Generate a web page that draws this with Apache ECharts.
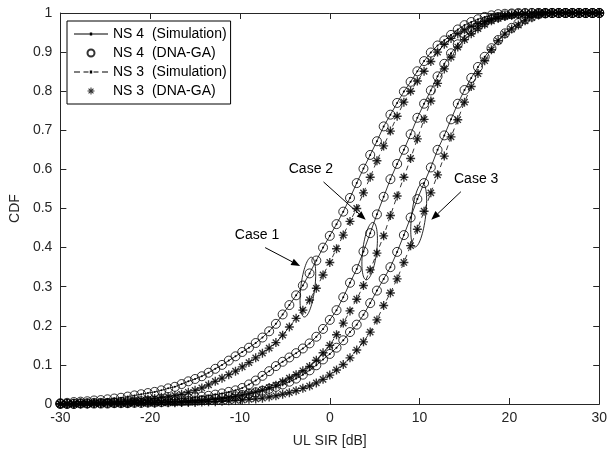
<!DOCTYPE html>
<html>
<head>
<meta charset="utf-8">
<script src="https://cdn.jsdelivr.net/npm/echarts@6/dist/echarts.min.js"></script>
<style>
  html, body { margin: 0; padding: 0; background: #fff; }
  #chart { width: 610px; height: 459px; }
</style>
</head>
<body>
<div id="chart"></div>
<script>
// UL SIR sample points [dB]
var sir = [-30, -29.25, -28.5, -27.75, -27, -26.25, -25.5, -24.75, -24, -23.25,
    -22.5, -21.75, -21, -20.25, -19.5, -18.75, -18, -17.25, -16.5, -15.75,
    -15, -14.25, -13.5, -12.75, -12, -11.25, -10.5, -9.75, -9, -8.25,
    -7.5, -6.75, -6, -5.25, -4.5, -3.75, -3, -2.25, -1.5, -0.75,
    0, 0.75, 1.5, 2.25, 3, 3.75, 4.5, 5.25, 6, 6.75,
    7.5, 8.25, 9, 9.75, 10.5, 11.25, 12, 12.75, 13.5, 14.25,
    15, 15.75, 16.5, 17.25, 18, 18.75, 19.5, 20.25, 21, 21.75,
    22.5, 23.25, 24, 24.75, 25.5, 26.25, 27, 27.75, 28.5, 29.25,
    30];

// Case 1
var case1Ns4 = [0.002, 0.003, 0.005, 0.006, 0.007, 0.009, 0.010, 0.012, 0.014, 0.016,
    0.019, 0.022, 0.025, 0.028, 0.031, 0.035, 0.040, 0.044, 0.051, 0.058,
    0.064, 0.071, 0.080, 0.090, 0.100, 0.111, 0.122, 0.133, 0.144, 0.156,
    0.170, 0.186, 0.205, 0.229, 0.253, 0.278, 0.303, 0.334, 0.367, 0.400,
    0.430, 0.460, 0.492, 0.527, 0.565, 0.602, 0.637, 0.672, 0.710, 0.740,
    0.770, 0.799, 0.824, 0.851, 0.877, 0.899, 0.917, 0.930, 0.944, 0.958,
    0.969, 0.977, 0.984, 0.990, 0.994, 0.997, 0.998, 0.999, 1, 1,
    1, 1, 1, 1, 1, 1, 1, 1, 1, 1,
    1];
var case1Ns3 = [0.001, 0.001, 0.001, 0.002, 0.002, 0.003, 0.003, 0.004, 0.005, 0.006,
    0.007, 0.009, 0.010, 0.012, 0.014, 0.017, 0.019, 0.022, 0.025, 0.030,
    0.035, 0.041, 0.049, 0.058, 0.066, 0.075, 0.084, 0.095, 0.106, 0.118,
    0.130, 0.143, 0.157, 0.176, 0.197, 0.219, 0.240, 0.266, 0.296, 0.330,
    0.362, 0.397, 0.432, 0.467, 0.500, 0.540, 0.580, 0.622, 0.660, 0.698,
    0.736, 0.772, 0.800, 0.826, 0.851, 0.876, 0.900, 0.920, 0.935, 0.947,
    0.957, 0.966, 0.973, 0.979, 0.985, 0.990, 0.993, 0.995, 0.997, 0.998,
    0.999, 1, 1, 1, 1, 1, 1, 1, 1, 1,
    1];
// Case 2
var case2Ns4 = [0.001, 0.001, 0.001, 0.002, 0.002, 0.003, 0.003, 0.003, 0.004, 0.005,
    0.005, 0.006, 0.007, 0.008, 0.008, 0.009, 0.011, 0.012, 0.014, 0.015,
    0.017, 0.019, 0.021, 0.024, 0.027, 0.031, 0.035, 0.041, 0.050, 0.060,
    0.072, 0.084, 0.097, 0.108, 0.119, 0.130, 0.142, 0.155, 0.172, 0.192,
    0.215, 0.240, 0.273, 0.310, 0.345, 0.390, 0.437, 0.485, 0.530, 0.575,
    0.614, 0.650, 0.690, 0.732, 0.768, 0.802, 0.838, 0.870, 0.897, 0.920,
    0.940, 0.954, 0.966, 0.976, 0.985, 0.990, 0.994, 0.997, 0.998, 0.999,
    1, 1, 1, 1, 1, 1, 1, 1, 1, 1,
    1];
var case2Ns3 = [0.000, 0.000, 0.000, 0.001, 0.001, 0.001, 0.001, 0.002, 0.002, 0.002,
    0.002, 0.003, 0.003, 0.004, 0.004, 0.004, 0.005, 0.006, 0.006, 0.007,
    0.008, 0.009, 0.011, 0.012, 0.014, 0.016, 0.019, 0.023, 0.027, 0.031,
    0.036, 0.042, 0.048, 0.057, 0.066, 0.075, 0.085, 0.096, 0.112, 0.131,
    0.150, 0.177, 0.207, 0.238, 0.268, 0.303, 0.343, 0.386, 0.430, 0.482,
    0.532, 0.580, 0.628, 0.678, 0.728, 0.775, 0.820, 0.857, 0.887, 0.913,
    0.932, 0.947, 0.960, 0.971, 0.980, 0.986, 0.991, 0.994, 0.997, 0.998,
    0.998, 0.999, 1, 1, 1, 1, 1, 1, 1, 1,
    1];
// Case 3
var case3Ns4 = [0.000, 0.000, 0.000, 0.001, 0.001, 0.001, 0.001, 0.001, 0.002, 0.002,
    0.002, 0.003, 0.003, 0.004, 0.004, 0.005, 0.006, 0.007, 0.007, 0.008,
    0.009, 0.010, 0.012, 0.014, 0.016, 0.018, 0.020, 0.023, 0.026, 0.030,
    0.034, 0.039, 0.044, 0.050, 0.057, 0.065, 0.075, 0.086, 0.099, 0.114,
    0.128, 0.144, 0.163, 0.184, 0.203, 0.228, 0.258, 0.290, 0.320, 0.350,
    0.389, 0.432, 0.477, 0.524, 0.565, 0.605, 0.650, 0.687, 0.728, 0.768,
    0.803, 0.834, 0.862, 0.888, 0.910, 0.931, 0.948, 0.962, 0.974, 0.984,
    0.991, 0.997, 0.999, 1, 1, 1, 1, 1, 1, 1,
    1];
var case3Ns3 = [0.000, 0.000, 0.000, 0.000, 0.000, 0.001, 0.001, 0.001, 0.001, 0.001,
    0.001, 0.002, 0.002, 0.002, 0.002, 0.003, 0.003, 0.003, 0.004, 0.004,
    0.004, 0.005, 0.006, 0.006, 0.007, 0.008, 0.009, 0.010, 0.012, 0.013,
    0.015, 0.018, 0.021, 0.025, 0.029, 0.034, 0.040, 0.046, 0.054, 0.063,
    0.074, 0.087, 0.101, 0.118, 0.138, 0.159, 0.184, 0.215, 0.252, 0.284,
    0.320, 0.362, 0.405, 0.447, 0.493, 0.540, 0.586, 0.634, 0.683, 0.727,
    0.772, 0.812, 0.845, 0.878, 0.906, 0.929, 0.946, 0.959, 0.969, 0.980,
    0.988, 0.995, 0.998, 0.999, 1, 1, 1, 1, 1, 1,
    1];

var legendNames = ['NS 4  (Simulation)', 'NS 4  (DNA-GA)', 'NS 3  (Simulation)', 'NS 3  (DNA-GA)'];

// annotations (data coordinates)
var caseLabels = ['Case 1', 'Case 2', 'Case 3'];
var labelAt = [[-8.1, 0.432], [-2.1, 0.601], [16.3, 0.575]];
var arrowFrom = [[-7.2, 0.40], [-0.7, 0.568], [14.6, 0.543]];
var arrowTo = [[-3.3, 0.353], [4.0, 0.471], [11.3, 0.471]];
var ringAt = [[-2.44, 0.299], [4.44, 0.391], [9.9, 0.483]];
var ringSize = [[0.78, 0.077], [0.78, 0.074], [0.78, 0.082]];

// asterisk marker ('*'), four bars
var STAR = 'path://M0 8.5L20 8.5L20 11.5L0 11.5Z M8.5 0L11.5 0L11.5 20L8.5 20Z ' +
    'M4.06 1.94L18.06 15.94L15.94 18.06L1.94 4.06Z M18.06 4.06L4.06 18.06L1.94 15.94L15.94 1.94Z';
// legend icons: line with a small '.' in the middle
var SOLID_ICON = 'path://M0 1L34 1L34 2L0 2Z M15.8 0L18.2 0L18.2 3L15.8 3Z';
var DASH_ICON = 'path://M0 1L6 1L6 2L0 2Z M9.5 1L14.5 1L14.5 2L9.5 2Z M15.8 0L18.2 0L18.2 3L15.8 3Z ' +
    'M19.5 1L24.5 1L24.5 2L19.5 2Z M28 1L34 1L34 2L28 2Z';

var AX = '#262626';
var FONT = 'Liberation Sans';

function pts(ys) {
    return sir.map(function (x, i) { return [x, ys[i]]; });
}

var series = [];
[case1Ns4, case2Ns4, case3Ns4].forEach(function (ys) {
    series.push({
        name: legendNames[0], type: 'line', data: pts(ys),
        symbol: 'circle', symbolSize: 2, showSymbol: true,
        itemStyle: { color: '#000' },
        lineStyle: { color: '#000', width: 0.8, type: 'solid' },
        silent: true, z: 2
    });
});
[case1Ns4, case2Ns4, case3Ns4].forEach(function (ys) {
    series.push({
        name: legendNames[1], type: 'scatter', data: pts(ys),
        symbol: 'circle', symbolSize: 9,
        itemStyle: { color: 'rgba(0,0,0,0)', borderColor: '#000', borderWidth: 1 },
        silent: true, z: 3
    });
});
[case1Ns3, case2Ns3, case3Ns3].forEach(function (ys) {
    series.push({
        name: legendNames[2], type: 'line', data: pts(ys),
        symbol: 'circle', symbolSize: 2, showSymbol: true,
        itemStyle: { color: '#000' },
        lineStyle: { color: '#000', width: 0.8, type: [5, 4] },
        silent: true, z: 2
    });
});
[case1Ns3, case2Ns3, case3Ns3].forEach(function (ys) {
    series.push({
        name: legendNames[3], type: 'scatter', data: pts(ys),
        symbol: STAR, symbolSize: 9,
        itemStyle: { color: '#000' },
        silent: true, z: 3
    });
});

function xAxisCfg(pos, main) {
    return {
        type: 'value', position: pos, min: -30, max: 30, interval: 10,
        axisLine: { onZero: false, lineStyle: { color: AX, width: 1 } },
        axisTick: { inside: true, length: 6, lineStyle: { color: AX } },
        axisLabel: { show: main, color: AX, fontSize: 14, fontFamily: FONT, margin: 7 },
        splitLine: { show: false },
        name: main ? 'UL SIR [dB]' : '', nameLocation: 'middle', nameGap: 30,
        nameTextStyle: { color: AX, fontSize: 14, fontFamily: FONT }
    };
}
function yAxisCfg(pos, main) {
    return {
        type: 'value', position: pos, min: 0, max: 1, interval: 0.1,
        axisLine: { onZero: false, lineStyle: { color: AX, width: 1 } },
        axisTick: { inside: true, length: 6, lineStyle: { color: AX } },
        axisLabel: { show: main, color: AX, fontSize: 14, fontFamily: FONT, margin: 8 },
        splitLine: { show: false },
        name: main ? 'CDF' : '', nameLocation: 'middle', nameGap: 27, nameRotate: 90,
        nameTextStyle: { color: AX, fontSize: 14, fontFamily: FONT }
    };
}

var chart = echarts.init(document.getElementById('chart'));
var option = {
    animation: false,
    backgroundColor: '#fff',
    grid: { left: 60, right: 10, top: 13, bottom: 55 },
    xAxis: [xAxisCfg('bottom', true), xAxisCfg('top', false)],
    yAxis: [yAxisCfg('left', true), yAxisCfg('right', false)],
    legend: {
        orient: 'vertical', left: 67, top: 21,
        data: [
            { name: legendNames[0], icon: SOLID_ICON },
            { name: legendNames[1] },
            { name: legendNames[2], icon: DASH_ICON },
            { name: legendNames[3] }
        ],
        itemWidth: 34, itemHeight: 7, itemGap: 5,
        padding: [6, 4, 6, 7],
        borderColor: '#000', borderWidth: 1, backgroundColor: '#fff',
        textStyle: { color: '#000', fontSize: 14, fontFamily: FONT },
        selectedMode: false
    },
    series: series
};
chart.setOption(option);

// ellipses, arrows and case labels, placed through the axes
function toPx(p) {
    return chart.convertToPixel({ xAxisIndex: 0, yAxisIndex: 0 }, p);
}
var elements = [];
caseLabels.forEach(function (label, i) {
    var c = toPx(ringAt[i]);
    var e = toPx([ringAt[i][0] + ringSize[i][0], ringAt[i][1] + ringSize[i][1]]);
    elements.push({
        type: 'ellipse', x: c[0], y: c[1], rotation: -0.12,
        shape: { cx: 0, cy: 0, rx: e[0] - c[0], ry: c[1] - e[1] },
        style: { fill: 'none', stroke: '#000', lineWidth: 0.8 }, z: 10
    });
    var a = toPx(arrowFrom[i]), b = toPx(arrowTo[i]);
    var dx = b[0] - a[0], dy = b[1] - a[1], len = Math.sqrt(dx * dx + dy * dy);
    var ux = dx / len, uy = dy / len, hl = 9, hw = 3.5;
    var bx = b[0] - ux * hl, by = b[1] - uy * hl;
    elements.push({
        type: 'line', shape: { x1: a[0], y1: a[1], x2: bx, y2: by },
        style: { stroke: '#000', lineWidth: 1 }, z: 10
    });
    elements.push({
        type: 'polygon',
        shape: { points: [[b[0], b[1]], [bx - uy * hw, by + ux * hw], [bx + uy * hw, by - ux * hw]] },
        style: { fill: '#000' }, z: 10
    });
    var t = toPx(labelAt[i]);
    elements.push({
        type: 'text', x: t[0], y: t[1],
        style: { text: label, fill: '#000', fontSize: 14, fontFamily: FONT, align: 'center', verticalAlign: 'middle' },
        z: 10
    });
});
chart.setOption({ graphic: { elements: elements } });

window.addEventListener('resize', function () {
    chart.resize();
});
</script>
</body>
</html>
